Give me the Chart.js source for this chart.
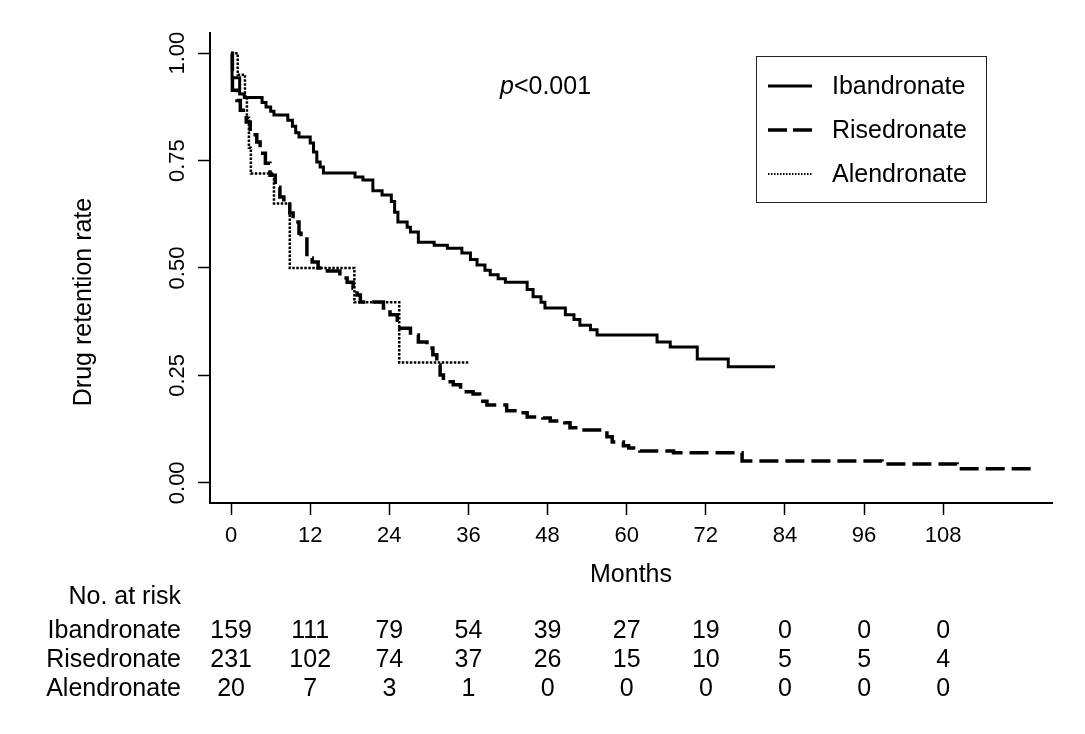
<!DOCTYPE html>
<html>
<head>
<meta charset="utf-8">
<script src="https://cdn.jsdelivr.net/npm/chart.js@4"></script>
<style>
  html, body { margin: 0; padding: 0; background: #fff; }
  #wrap { width: 1085px; height: 734px; }
</style>
</head>
<body>
<div id="wrap"><canvas id="c" width="1085" height="734"></canvas></div>
<script>
// ---- data ----
const seriesNames = ['Ibandronate', 'Risedronate', 'Alendronate'];

const ibanMonths = [0, 0.15, 1.3, 2.0, 4.7, 5.3, 6.0, 6.5, 8.6, 9.3, 9.8, 10.3, 12.0, 12.5, 13.0, 13.5, 14.0, 18.8, 20.0, 21.5, 22.9, 24.3, 24.8, 25.3, 26.7, 27.2, 28.4, 30.8, 32.8, 35.0, 36.3, 37.3, 38.5, 39.3, 40.5, 41.6, 44.9, 45.8, 47.0, 47.6, 50.7, 52.0, 52.9, 54.5, 55.5, 64.6, 66.6, 70.7, 75.4, 82.5];
const ibanRate   = [1.0, 0.943, 0.905, 0.897, 0.885, 0.875, 0.865, 0.856, 0.844, 0.83, 0.815, 0.805, 0.791, 0.77, 0.747, 0.735, 0.721, 0.712, 0.705, 0.68, 0.67, 0.655, 0.63, 0.607, 0.595, 0.584, 0.56, 0.553, 0.546, 0.535, 0.52, 0.507, 0.495, 0.484, 0.475, 0.467, 0.45, 0.433, 0.42, 0.407, 0.391, 0.38, 0.367, 0.356, 0.344, 0.328, 0.316, 0.288, 0.27, 0.27];

const riseMonths = [0, 0.2, 0.9, 1.4, 2.3, 2.9, 3.9, 4.4, 5.2, 5.9, 6.7, 7.4, 8.0, 8.9, 9.4, 10.3, 10.6, 11.5, 12.3, 13.2, 14.6, 16.5, 17.6, 18.5, 19.1, 19.6, 23.1, 24.1, 25.2, 25.6, 27.2, 28.4, 29.7, 30.6, 31.2, 31.7, 32.2, 33.7, 34.8, 36.7, 37.7, 38.8, 41.8, 43.8, 44.9, 47.3, 48.4, 50.6, 51.4, 53.0, 57.0, 57.8, 59.5, 60.3, 62.0, 67.1, 77.5, 98.7, 110.1, 121.6];
const riseRate   = [1.0, 0.914, 0.89, 0.867, 0.84, 0.81, 0.793, 0.767, 0.744, 0.716, 0.688, 0.665, 0.653, 0.628, 0.607, 0.581, 0.572, 0.523, 0.514, 0.50, 0.493, 0.477, 0.467, 0.453, 0.437, 0.421, 0.407, 0.391, 0.367, 0.36, 0.344, 0.328, 0.314, 0.298, 0.274, 0.251, 0.235, 0.228, 0.212, 0.207, 0.19, 0.181, 0.168, 0.163, 0.153, 0.151, 0.144, 0.14, 0.128, 0.123, 0.107, 0.095, 0.086, 0.081, 0.074, 0.07, 0.051, 0.044, 0.033, 0.033];

const alenMonths = [0, 1.0, 2.1, 2.4, 2.7, 3.0, 6.5, 8.9, 18.7, 25.5, 36.0];
const alenRate   = [1.0, 0.95, 0.90, 0.85, 0.78, 0.72, 0.65, 0.50, 0.42, 0.28, 0.28];

const xTickMonths = [0, 12, 24, 36, 48, 60, 72, 84, 96, 108];
const yTickValues = [0, 0.25, 0.5, 0.75, 1.0];
const yTickLabels = ['0.00', '0.25', '0.50', '0.75', '1.00'];

const riskIban = [159, 111, 79, 54, 39, 27, 19, 0, 0, 0];
const riskRise = [231, 102, 74, 37, 26, 15, 10, 5, 5, 4];
const riskAlen = [20, 7, 3, 1, 0, 0, 0, 0, 0, 0];

const pText = '<0.001';
const yTitle = 'Drug retention rate';
const xTitle = 'Months';
const riskTitle = 'No. at risk';

// ---- styling ----
const FONT = '"Liberation Sans", Arial, Helvetica, sans-serif';
const lineStyles = [
  { dash: [], width: 3, legendDash: [], legendWidth: 3 },
  { dash: [19, 7], width: 3.5, legendDash: [19, 6], legendWidth: 3.5 },
  { dash: [2.5, 1.5], width: 2.5, legendDash: [1.5, 1.5], legendWidth: 2 }
];

function toPoints(xs, ys) { return xs.map((x, i) => ({ x: x, y: ys[i] })); }

const dataSets = [
  toPoints(ibanMonths, ibanRate),
  toPoints(riseMonths, riseRate),
  toPoints(alenMonths, alenRate)
];
const riskRows = [riskIban, riskRise, riskAlen];

const annotate = {
  id: 'annotate',
  afterDraw(chart) {
    const ctx = chart.ctx;
    const xs = chart.scales.x, ys = chart.scales.y;
    ctx.save();
    ctx.fillStyle = '#000';

    // y tick labels (rotated)
    ctx.font = '22px ' + FONT;
    ctx.textAlign = 'center';
    ctx.textBaseline = 'middle';
    yTickValues.forEach((v, i) => {
      const py = ys.getPixelForValue(v);
      ctx.save();
      ctx.translate(178, py);
      ctx.rotate(-Math.PI / 2);
      ctx.fillText(yTickLabels[i], 0, 0);
      ctx.restore();
    });

    // y title
    ctx.font = '25px ' + FONT;
    ctx.save();
    ctx.translate(84, (ys.top + ys.bottom) / 2 + 34);
    ctx.rotate(-Math.PI / 2);
    ctx.fillText(yTitle, 0, 0);
    ctx.restore();

    // x title
    ctx.fillText(xTitle, (xs.left + xs.right) / 2, 575);

    // p value
    ctx.textAlign = 'left';
    ctx.font = 'italic 25px ' + FONT;
    ctx.fillText('p', 500, 87);
    const pw = ctx.measureText('p').width;
    ctx.font = '25px ' + FONT;
    ctx.fillText(pText, 500 + pw, 87);

    // risk table
    ctx.textAlign = 'right';
    ctx.fillText(riskTitle, 181, 597);
    const rowY = [631, 660, 689];
    seriesNames.forEach((n, r) => {
      ctx.textAlign = 'right';
      ctx.fillText(n, 181, rowY[r]);
      ctx.textAlign = 'center';
      riskRows[r].forEach((val, i) => {
        ctx.fillText(String(val), xs.getPixelForValue(xTickMonths[i]), rowY[r]);
      });
    });

    // legend
    ctx.strokeStyle = '#222';
    ctx.lineWidth = 1;
    ctx.setLineDash([]);
    ctx.strokeRect(756.5, 56.5, 230, 146);
    const legY = [86, 130, 174];
    seriesNames.forEach((n, i) => {
      ctx.save();
      ctx.strokeStyle = '#000';
      ctx.lineWidth = lineStyles[i].legendWidth;
      ctx.setLineDash(lineStyles[i].legendDash);
      ctx.beginPath();
      ctx.moveTo(768, legY[i]);
      ctx.lineTo(812, legY[i]);
      ctx.stroke();
      ctx.restore();
      ctx.textAlign = 'left';
      ctx.font = '25px ' + FONT;
      ctx.fillText(n, 832, legY[i] + 1);
    });
    ctx.restore();
  }
};

new Chart(document.getElementById('c'), {
  type: 'line',
  data: {
    datasets: seriesNames.map((n, i) => ({
      label: n,
      data: dataSets[i],
      borderColor: '#000',
      backgroundColor: '#000',
      borderWidth: lineStyles[i].width,
      borderDash: lineStyles[i].dash,
      stepped: 'before',
      pointRadius: 0,
      fill: false,
      tension: 0
    }))
  },
  options: {
    responsive: false,
    devicePixelRatio: 1,
    animation: false,
    layout: { padding: { left: 0, right: 33, top: 33, bottom: 0 } },
    plugins: { legend: { display: false }, tooltip: { enabled: false }, title: { display: false } },
    scales: {
      x: {
        type: 'linear',
        min: -3.2,
        max: 124.5,
        afterBuildTicks(scale) { scale.ticks = xTickMonths.map(v => ({ value: v })); },
        afterFit(scale) { scale.height = 231; },
        ticks: {
          autoSkip: false,
          maxRotation: 0,
          color: '#000',
          padding: 8,
          font: { family: FONT, size: 22 },
          callback: (v) => String(v)
        },
        grid: { drawOnChartArea: false, drawTicks: true, tickLength: 12, tickColor: '#000', tickWidth: 1.5 },
        border: { display: true, color: '#000', width: 2 }
      },
      y: {
        type: 'linear',
        min: -0.047,
        max: 1.047,
        afterBuildTicks(scale) { scale.ticks = yTickValues.map(v => ({ value: v })); },
        afterFit(scale) { scale.width = 210; },
        ticks: { display: false },
        grid: { drawOnChartArea: false, drawTicks: true, tickLength: 12, tickColor: '#000', tickWidth: 1.5 },
        border: { display: true, color: '#000', width: 2 }
      }
    }
  },
  plugins: [annotate]
});
</script>
</body>
</html>
